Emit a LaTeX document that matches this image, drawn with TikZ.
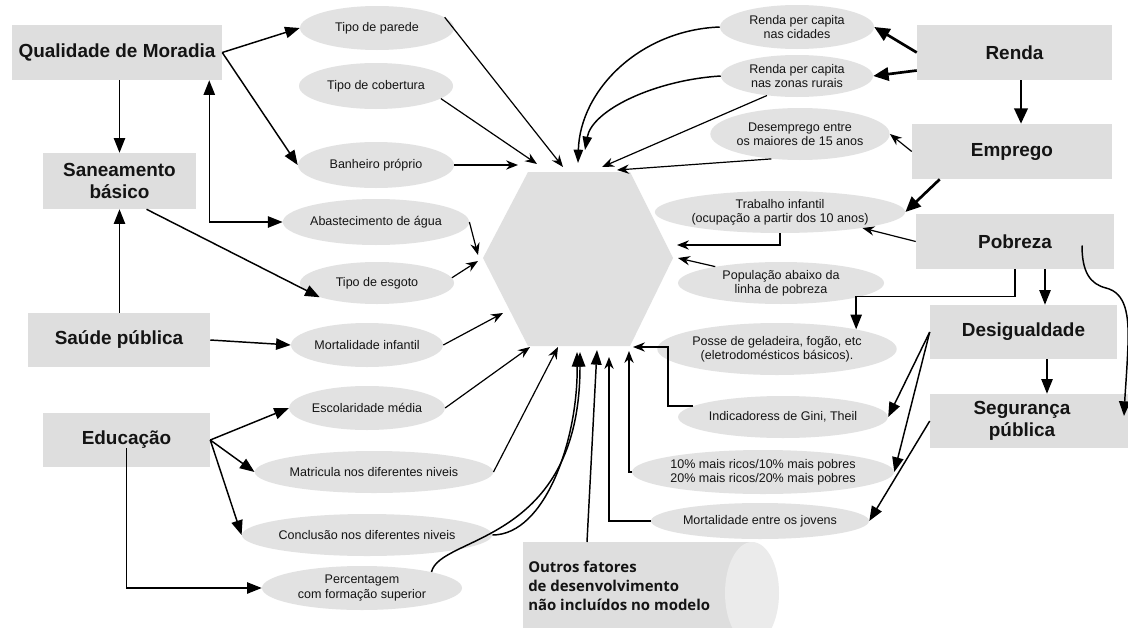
\documentclass[tikz,border=0pt]{standalone}
\usepackage{fontspec}
\setmainfont{Liberation Sans}
\newfontfamily\outrosfont{Open Sans}
\usetikzlibrary{arrows.meta,shapes.geometric,calc}
\definecolor{boxgray}{HTML}{DEDEDE}
\definecolor{ellgray}{HTML}{E2E2E2}
\definecolor{hexgray}{HTML}{E0E0E0}
\definecolor{endgray}{HTML}{EBEBEB}
\definecolor{txt}{HTML}{141414}
\begin{document}
\begin{tikzpicture}[x=0.75pt,y=-0.75pt,
  bx/.style 2 args={rectangle, fill=boxgray, minimum width={#1*0.75pt}, minimum height={#2*0.75pt}, inner sep=0pt, align=center, text=txt, font=\bfseries\fontsize{14.2}{16.5}\selectfont},
  bxtext/.style={inner sep=0pt, align=center, text=txt, font=\bfseries\fontsize{14.2}{16.5}\selectfont},
  el/.style 2 args={ellipse, fill=ellgray, minimum width={#1*1.5pt}, minimum height={#2*1.5pt}, inner sep=0pt, align=center, text=txt, font=\fontsize{9.4}{10.6}\selectfont},
  fa/.style={-{Triangle[length=11pt,width=8.5pt]}, line width=1.1pt},
  tfa/.style={-{Triangle[length=11.5pt,width=10pt]}, line width=2pt},
  bfa/.style={-{Triangle[length=11pt,width=8pt]}, line width=1.1pt},
  sa/.style={-{Stealth[length=9pt,width=7pt,inset=3pt]}, line width=0.9pt},
  sfa/.style={-{Triangle[length=10pt,width=7pt]}, line width=1.1pt},
]
\useasboundingbox (0,0) rectangle (1128,628);
\fill[white] (0,0) rectangle (1128,628);

% central hexagon
\fill[hexgray] (483,258) -- (528,172) -- (630,172) -- (673,258) -- (630,346) -- (528,346) -- cycle;

% Outros cylinder
\node[fill=boxgray, minimum width={229*0.75pt}, minimum height={110*0.75pt}, inner sep=0pt, anchor=north west] (outrosbox) at (523,542) {};
\fill[endgray] (752,593) ellipse [x radius=20.25pt, y radius=38.25pt];
\node[anchor=north west, align=left, inner sep=0pt, text=txt, font=\outrosfont\bfseries\fontsize{11.2}{14}\selectfont] (outros) at (528,561) {Outros fatores\\de desenvolvimento\\não incluídos no modelo};

% boxes
\node[bx={210}{55}] (qual) at (117,52.5) {Qualidade de Moradia};
\node[bx={153}{56}] (san) at (119.5,181) {Saneamento\\básico};
\node[bx={182}{54}] (saude) at (119,340) {Saúde pública};
\node[bx={167}{54}] (educ) at (126.5,440) {Educação};
\node[bx={195}{55}] (renda) at (1014.5,52.5) {Renda};
\node[bx={200}{55}] (emp) at (1012,151.5) {Emprego};
\node[bx={198}{55}] (pob) at (1015,241.5) {Pobreza};
\node[bx={187}{54}] (desig) at (1023.5,332) {Desigualdade};
\node[bx={198}{54}] (segur) at (1029,421) {};
\node[bxtext] (segurtxt) at (1022,421) {Segurança\\pública};

% ellipses left
\node[el={77}{22}] (parede) at (377,28) {Tipo de parede};
\node[el={77}{23}] (cobertura) at (376,86) {Tipo de cobertura};
\node[el={78}{23}] (banheiro) at (376,165) {Banheiro próprio};
\node[el={78}{23}] (agua) at (376,222) {Abastecimento de água};
\node[el={77}{21}] (esgoto) at (377,283) {Tipo de esgoto};
\node[el={76}{22}] (mortinf) at (367,345) {Mortalidade infantil};
\node[el={77}{22}] (escol) at (367,408) {Escolaridade média};
\node[el={102}{21}] (matric) at (374,472) {Matricula nos diferentes niveis};
\node[el={113}{21}] (concl) at (367,535) {Conclusão nos diferentes niveis};
\node[el={100}{22}] (perc) at (362,588) {Percentagem\\com formação superior};

% ellipses right
\node[el={77}{22}] (cidades) at (797,27) {Renda per capita\\nas cidades};
\node[el={76}{21}] (rurais) at (797,76) {Renda per capita\\nas zonas rurais};
\node[el={85}{26}] (desemp) at (800,134) {Desemprego entre\\os maiores de 15 anos};
\node[el={103}{21}] (trab) at (780,212) {Trabalho infantil\\(ocupação a partir dos 10 anos)};
\node[el={103}{21}] (popu) at (781,283) {População abaixo da\\linha de pobreza};
\node[el={99}{26}] (posse) at (777,349) {Posse de geladeira, fogão, etc\\(eletrodomésticos básicos).};
\node[el={83}{21}] (gini) at (783,417) {Indicadoress de Gini, Theil};
\node[el={122}{22}] (ricos) at (763,472) {10\% mais ricos/10\% mais pobres\\20\% mais ricos/20\% mais pobres};
\node[el={109}{18}] (mortjov) at (760,521) {Mortalidade entre os jovens};

% targets on the hexagon
\coordinate (hA) at (563,167);
\coordinate (hB) at (537,164);
\coordinate (hC) at (518,165);
\coordinate (hD) at (478,255);
\coordinate (hE) at (478,261);
\coordinate (hF) at (503,313);
\coordinate (hG) at (530,347);
\coordinate (hH) at (558,347);
\coordinate (hI) at (577,352);
\coordinate (hJ) at (580,352);
\coordinate (hK) at (597,350);
\coordinate (hL) at (609,357);
\coordinate (hM) at (629,351);
\coordinate (hN) at (633,347);
\coordinate (g1) at (668,347);
\coordinate (hO) at (678,258);
\coordinate (hP) at (677,245);
\coordinate (hQ) at (578,163);
\coordinate (hR) at (585,150);
\coordinate (hS) at (602,167);
\coordinate (hT) at (617,170);
\coordinate (pobend) at (1124,416);

% left side connectors
\draw[fa] (qual.east) -- (parede.west);
\draw[fa] (qual.east) -- (banheiro.west);
\draw[fa] (san.north |- qual.south) -- (san.north);
\draw[{Triangle[length=11pt,width=8.5pt]}-{Triangle[length=11pt,width=8.5pt]}, line width=1.1pt] ($(qual.south east)+(-13,0)$) |- (agua.west);
\draw[fa] ($(san.south)+(27,0)$) -- (esgoto.194);
\draw[fa] (san.south |- saude.north) -- (san.south);
\draw[fa] (saude.east) -- (mortinf.west);
\draw[fa] (educ.east) -- (escol.west);
\draw[fa] (educ.east) -- (matric.west);
\draw[fa] (educ.east) -- (concl.west);
\draw[fa] ($(educ.center)+(0,8)$) |- (perc.west);

% into the hexagon from the left
\draw[sa] (parede.9) -- (hA);
\draw[sa] (cobertura.-11) -- (hB);
\draw[sa] (banheiro.east) -- (hC);
\draw[sa] (agua.east) -- (hD);
\draw[sa] (esgoto.4) -- (hE);
\draw[sa] (mortinf.east) -- (hF);
\draw[sa] (escol.east) -- (hG);
\draw[sa] (matric.east) -- (hH);
\draw[bfa] (concl.east) .. controls (545,535) and (578,440) .. (hI);
\draw[bfa] (perc.13) .. controls (440,535) and (580,545) .. (hJ);
\draw[bfa] ($(outrosbox.north west)+(64,0)$) -- (hK);

% into the hexagon from the right
\draw[sa] (mortjov.west) -| (hL);
\draw[sa] (ricos.west) -| (hM);
\draw[sa] (gini.173) -| (g1) -- (hN);
\draw[sa] (trab.south) |- (hP);
\draw[sa] (popu.166) -- (hO);
\draw[sfa] (cidades.west) .. controls (640,30) and (580,90) .. (hQ);
\draw[sfa] (rurais.west) .. controls (655,80) and (592,110) .. (hR);
\draw[sa] (rurais.213) -- (hS);
\draw[sa] (desemp.221) -- (hT);

% right side connectors
\draw[tfa] (renda.west) -- (cidades.east);
\draw[tfa] ($(renda.west)+(0,18)$) -- (rurais.east);
\draw[tfa] ($(renda.south)+(6.5,0)$) -- ($(emp.north)+(9,0)$);
\draw[sa] (emp.west) -- (desemp.east);
\draw[tfa] ($(emp.south west)+(28,0)$) -- (trab.east);
\draw[sa] (pob.west) -- (trab.-11);
\draw[fa] (pob.south) -- ++(0,27) -| (posse.14);
\draw[fa] ($(pob.south)+(30,0)$) -- ($(desig.north)+(21.5,0)$);
\draw[fa] ($(desig.south)+(23.5,0)$) -- ($(segur.north)+(18,0)$);
\draw[fa] (desig.west) -- (gini.east);
\draw[fa] (desig.west) -- (ricos.east);
\draw[fa] (segur.west) -- (mortjov.east);
\draw[fa] ($(pob.center)+(67,4)$) .. controls (1082,272) and (1090,284) .. (1106,288) .. controls (1126,293) and (1129,315) .. (1128,345) .. controls (1127,370) and (1125,395) .. (pobend);
\end{tikzpicture}
\end{document}
